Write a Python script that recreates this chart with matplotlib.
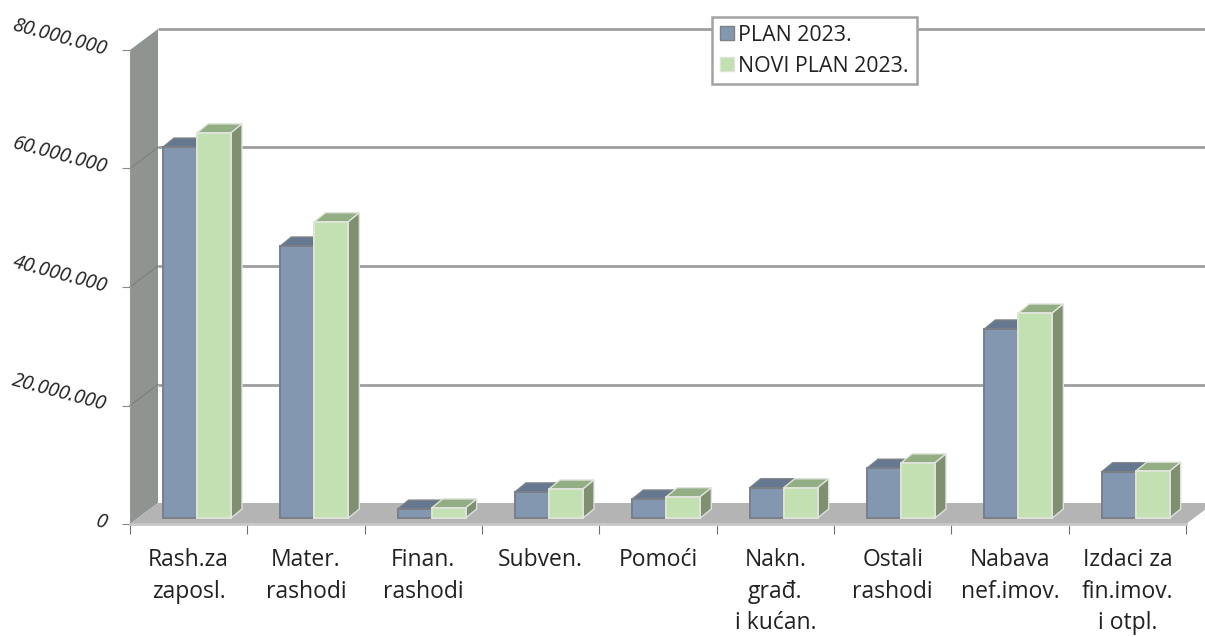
import numpy as np
import matplotlib
matplotlib.use("Agg")
import matplotlib.pyplot as plt
from matplotlib.patches import Polygon, Patch

plt.rcParams['font.family'] = ['Open Sans', 'DejaVu Sans']

categories = ['Rash.za\nzaposl.', 'Mater.\nrashodi', 'Finan.\nrashodi', 'Subven.', 'Pomoći',
              'Nakn.\ngrađ.\ni kućan.', 'Ostali\nrashodi', 'Nabava\nnef.imov.', 'Izdaci za\nfin.imov.\ni otpl.']
plan = [62.6, 45.9, 1.5, 4.4, 3.2, 5.1, 8.4, 31.9, 7.8]
novi_plan = [65.0, 50.0, 1.7, 4.9, 3.6, 5.1, 9.3, 34.6, 7.9]
y_ticks = [0, 20, 40, 60, 80]
y_labels = ['0', '20.000.000', '40.000.000', '60.000.000', '80.000.000']

W, H = 1205, 637
# pixel size of one category / one million, used for the fake 3d depth
cat_px = (1186 - 130) / 9
mil_px = (524 - 50) / 80
wall_dx, wall_dy = 28 / cat_px, 21 / mil_px
bar_dx, bar_dy = 11 / cat_px, 9 / mil_px
bar_x, bar_y = 33 / cat_px, 6 / mil_px
bar_w = 34 / cat_px

fig = plt.figure(figsize=(W / 100, H / 100), dpi=100)
ax = fig.add_axes([130 / W, 1 - 524 / H, (1186 - 130) / W, (524 - 50) / H])
ax.set_xlim(0, 9)
ax.set_ylim(0, 80)

# wall and floor
ax.add_patch(Polygon([(0, 0), (wall_dx, wall_dy), (wall_dx, 80 + wall_dy), (0, 80)],
                     fc='#8f9491', ec='none', clip_on=False, zorder=1))
ax.add_patch(Polygon([(0, 0), (9, 0), (9 + wall_dx, wall_dy), (wall_dx, wall_dy)],
                     fc='#b4b4b4', ec='none', clip_on=False, zorder=1))
for t in y_ticks[1:]:
    ax.plot([wall_dx, 9 + wall_dx], [t + wall_dy, t + wall_dy], color='#9e9e9e', lw=2,
            clip_on=False, zorder=2, solid_capstyle='butt')
    if t < 80:
        ax.plot([0, wall_dx], [t, t + wall_dy], color='#7f8481', lw=1, clip_on=False, zorder=2)


def draw_bars(x, vals, front, top, side, edge, z):
    ax.bar(x, vals, bar_w, bottom=bar_y, align='edge', color=front, edgecolor=edge, linewidth=1.4, zorder=z + 1)
    for xi, v in zip(x, vals):
        y1 = v + bar_y
        ax.add_patch(Polygon([(xi, y1), (xi + bar_w, y1), (xi + bar_w + bar_dx, y1 + bar_dy), (xi + bar_dx, y1 + bar_dy)],
                             fc=top, ec=edge, lw=1, zorder=z))
        ax.add_patch(Polygon([(xi + bar_w, bar_y), (xi + bar_w + bar_dx, bar_y + bar_dy), (xi + bar_w + bar_dx, y1 + bar_dy), (xi + bar_w, y1)],
                             fc=side, ec=edge, lw=1, zorder=z))


xs = np.arange(len(categories))
draw_bars(xs + bar_x, plan, '#8497b0', '#66788f', '#66788f', '#7c8085', 3)
draw_bars(xs + bar_x + bar_w, novi_plan, '#c3e0b2', '#93ae85', '#7e9070', '#dfe3da', 5)

for s in ['top', 'right']:
    ax.spines[s].set_visible(False)
ax.spines['left'].set_color('#9a9a9a')
ax.spines['bottom'].set_color('#c8c8c8')
ax.spines['bottom'].set_linewidth(2)

ax.set_yticks(y_ticks)
ax.set_yticklabels(y_labels, fontsize=14.2, style='italic', color='#222222',
                   rotation=-15, rotation_mode='anchor', ha='right', va='center')
ax.tick_params(axis='y', length=6, color='#8a8a8a', pad=11)
ax.set_xticks(np.arange(10))
ax.set_xticklabels([])
ax.tick_params(axis='x', which='major', length=7, color='#707070')
ax.set_xticks(xs + 0.5, minor=True)
ax.set_xticklabels(categories, minor=True, fontsize=16.5, color='#222222', linespacing=1.42)
ax.tick_params(axis='x', which='minor', length=0, pad=17.5)

handles = [Patch(fc='#8497b0', ec='#7c8085', label='PLAN 2023.'),
           Patch(fc='#c3e0b2', ec='#dfe3da', label='NOVI PLAN 2023.')]
leg = ax.legend(handles=handles, loc='upper left', bbox_to_anchor=(712 / W, 1 - 17 / H),
                bbox_transform=fig.transFigure, borderaxespad=0, fontsize=15.4, fancybox=False,
                framealpha=1, edgecolor='#a3a3a3', handlelength=0.65, handleheight=0.65,
                handletextpad=0.22, borderpad=0.36, labelspacing=0.46, labelcolor='#222222')
leg.get_frame().set_linewidth(1.8)
leg.set_zorder(10)

fig.savefig('out.png', dpi=100)
